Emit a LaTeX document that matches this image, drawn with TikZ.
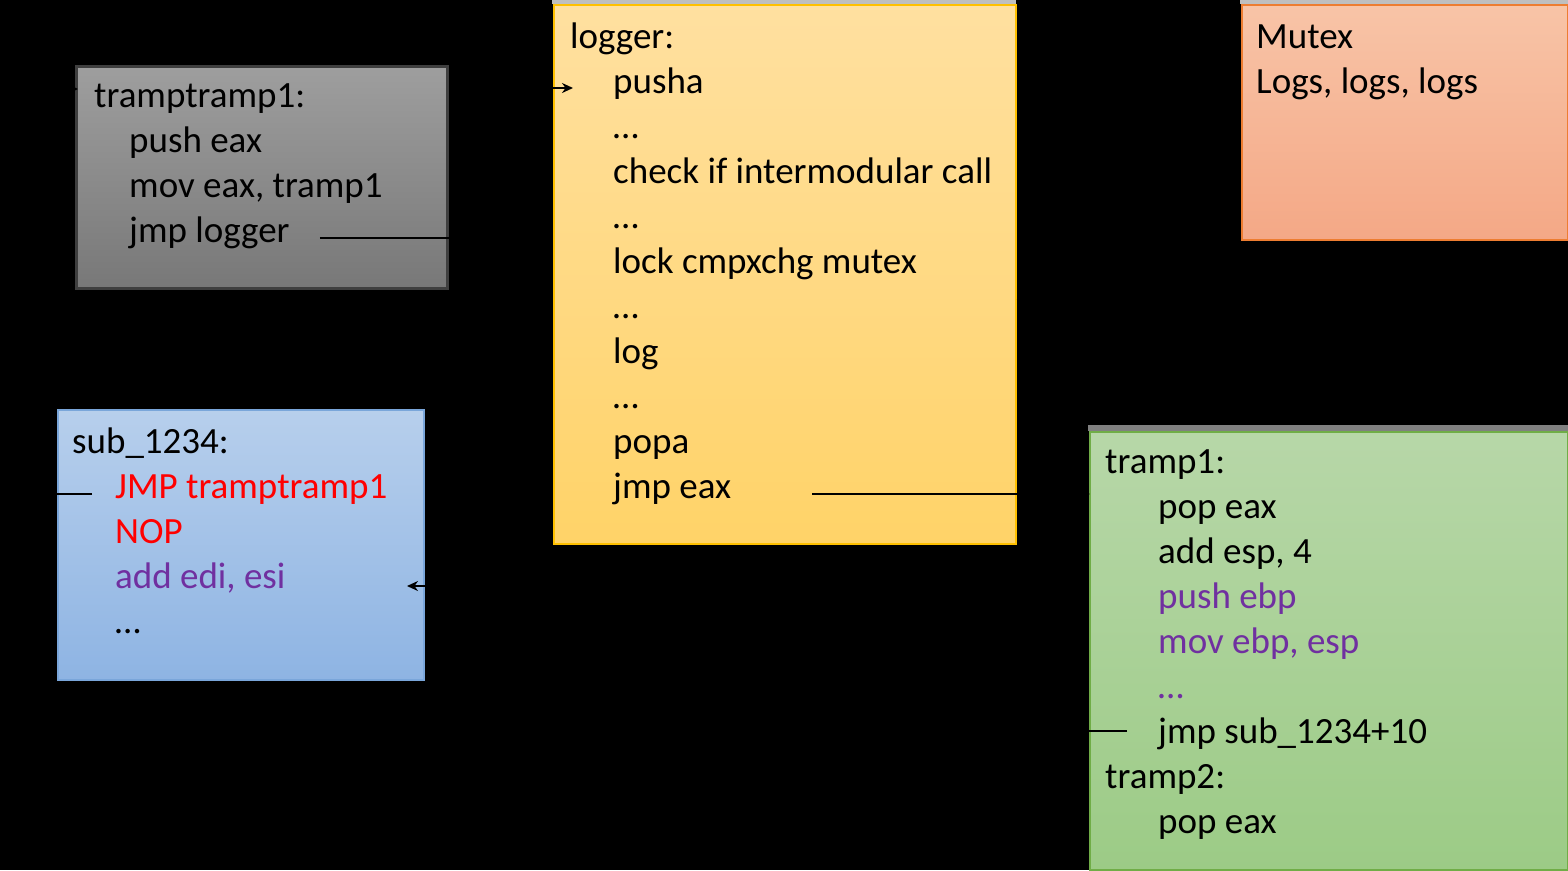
\documentclass[tikz,border=0pt]{standalone}
\usepackage{fontspec}
\setmainfont{Carlito}
\usetikzlibrary{positioning}
\usetikzlibrary{arrows.meta}
\definecolor{hookred}{HTML}{FF0000}
\definecolor{movedpurple}{HTML}{7030A0}
\definecolor{trampline}{HTML}{3F3F3F}
\definecolor{loggerline}{HTML}{FFC000}
\definecolor{mutexline}{HTML}{ED7D31}
\definecolor{subline}{HTML}{7AA6DA}
\definecolor{tramp1line}{HTML}{70AD47}
\tikzset{
    codebox/.style={
        draw,
        line width=1.5pt,
        inner sep=0pt,
        anchor=north west
    },
    codeline/.style={
        anchor=base west,
        inner sep=0pt,
        font=\fontsize{37}{45}\selectfont
    },
    hooked/.style={text=hookred},
    moved/.style={text=movedpurple},
    jump/.style={
        draw=black,
        ->,>={Stealth[length=11pt,width=10pt]},
        line width=2pt
    }
}

\begin{document}
\begin{tikzpicture}[x=1pt, y=-1pt]
    \fill[black] (0,0) rectangle (1568,870);
    \useasboundingbox (0,0) rectangle (1568,870);

    % boxes
    \node[codebox, draw=trampline, line width=3pt, top color=black!38, bottom color=black!53,
          minimum width=371pt, minimum height=222pt] (ttbox) at (75,65) {};
    \fill[black!25] (552,0) rectangle (1016,4);
    \node[codebox, draw=loggerline, top color={rgb,255:red,255;green,224;blue,160}, bottom color={rgb,255:red,255;green,211;blue,104},
          minimum width=462pt, minimum height=539pt] (lgbox) at (553,4) {};
    \fill[black!25] (1240,0) rectangle (1568,4);
    \node[codebox, draw=mutexline, top color={rgb,255:red,248;green,196;blue,167}, bottom color={rgb,255:red,244;green,168;blue,134},
          minimum width=326pt, minimum height=235pt] (mxbox) at (1241,4) {};
    \node[codebox, draw=subline, top color={rgb,255:red,183;green,207;blue,236}, bottom color={rgb,255:red,142;green,180;blue,227},
          minimum width=366pt, minimum height=270pt] (sbbox) at (57,409) {};
    \fill[black!50] (1088,425) rectangle (1568,431);
    \node[codebox, draw=tramp1line, top color={rgb,255:red,183;green,215;blue,168}, bottom color={rgb,255:red,156;green,203;blue,134},
          minimum width=478pt, minimum height=438pt] (grbox) at (1089,431) {};

    % tramptramp1
    \node[codeline] (tt0) at (94,107) {tramptramp1:};
    \node[codeline] (tt1) at (129,152) {push eax};
    \node[codeline] (tt2) at ([yshift=-45pt]tt1.base west) {mov eax, tramp1};
    \node[codeline] (tt3) at ([yshift=-45pt]tt2.base west) {jmp logger};

    % logger
    \node[codeline] (lg0) at (570,48) {logger:};
    \foreach \txt [count=\i] in {pusha, …, check if intermodular call, …, lock cmpxchg mutex, …, log, …, popa, jmp eax}
        \node[codeline] (lg\i) at (613,48+45*\i) {\txt};

    % mutex
    \node[codeline] (mx0) at (1256,48) {Mutex};
    \node[codeline] (mx1) at ([yshift=-45pt]mx0.base west) {Logs, logs, logs};

    % sub_1234
    \node[codeline] (sb0) at (72,453) {sub\_1234:};
    \node[codeline, hooked] (sb1) at (115,498) {JMP tramptramp1};
    \node[codeline, hooked] (sb2) at ([yshift=-45pt]sb1.base west) {NOP};
    \node[codeline, moved] (sb3) at ([yshift=-45pt]sb2.base west) {add edi, esi};
    \node[codeline] (sb4) at ([yshift=-45pt]sb3.base west) {…};

    % tramp1 / tramp2
    \node[codeline] (gr0) at (1105,473) {tramp1:};
    \node[codeline] (gr1) at (1158,518) {pop eax};
    \node[codeline] (gr2) at ([yshift=-45pt]gr1.base west) {add esp, 4};
    \node[codeline, moved] (gr3) at ([yshift=-45pt]gr2.base west) {push ebp};
    \node[codeline, moved] (gr4) at ([yshift=-45pt]gr3.base west) {mov ebp, esp};
    \node[codeline, moved] (gr5) at ([yshift=-45pt]gr4.base west) {…};
    \node[codeline] (gr6) at ([yshift=-45pt]gr5.base west) {jmp sub\_1234+10};
    \node[codeline] (gr7) at (1105,788) {tramp2:};
    \node[codeline] (gr8) at (1158,833) {pop eax};

    % connector ends
    \coordinate (ttin) at (78,89);
    \coordinate (lgin) at (573,88);
    \coordinate (grin) at (1090,494);
    \coordinate (mxin) at (1404,241);
    \coordinate (sbin) at (407,586);

    % jumps
    \draw[jump] ([xshift=-23pt,yshift=4pt]sb1.base west) -- ++(-62,0) |- (ttin);
    \draw[jump] ([xshift=30pt,yshift=4pt]tt3.base east) -- ++(180,0) |- (lgin);
    \draw[jump] (lgbox.east |- 0,300) -| (mxin);
    \draw[jump] ([xshift=81pt,yshift=4pt]lg10.base east) -- (grin);
    \draw[jump] ([xshift=-31pt,yshift=12pt]gr6.base west) -- ++(-647,0) |- (sbin);
\end{tikzpicture}
\end{document}
